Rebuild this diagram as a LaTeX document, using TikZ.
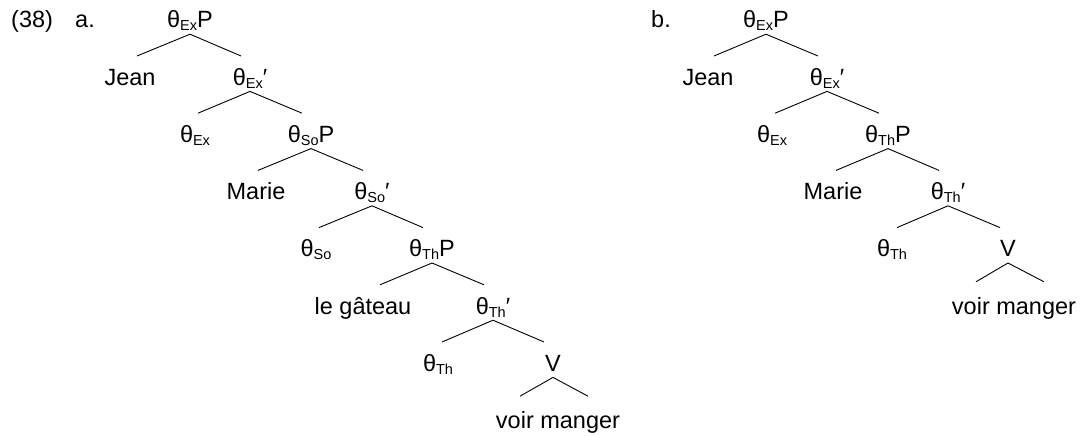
\documentclass[tikz,border=0pt]{standalone}
\usepackage{fontspec}
\setmainfont{Liberation Sans}
\newcommand{\sbs}[1]{\raisebox{-3pt}{\fontsize{14.5}{14.5}\selectfont #1}}
\begin{document}
\begin{tikzpicture}[x=1pt,y=-1pt,
  tn/.style={font=\fontsize{23.5}{27}\selectfont, inner sep=0pt, text height=29pt, text depth=6pt, anchor=base},
  br/.style={line width=0.9pt}]
\useasboundingbox (0,0) rectangle (1084,436);
% labels
\node[tn,anchor=base west] (num) at (11,28) {(38)};
\node[tn,anchor=base west] (la) at (75,28) {a.};
\node[tn,anchor=base west] (lb) at (651,28) {b.};
% tree a
\node[tn] (a0) at (190,28) {θ\sbs{Ex}P};
\node[tn] (a1) at (130,85.2) {Jean};
\node[tn] (a2) at (250,85.2) {θ\sbs{Ex}′};
\node[tn] (a3) at (195,142.4) {θ\sbs{Ex}};
\node[tn] (a4) at (311,142.4) {θ\sbs{So}P};
\node[tn] (a5) at (256,199.6) {Marie};
\node[tn] (a6) at (372,199.6) {θ\sbs{So}′};
\node[tn] (a7) at (316,256.8) {θ\sbs{So}};
\node[tn] (a8) at (432,256.8) {θ\sbs{Th}P};
\node[tn] (a9) at (363,314) {le gâteau};
\node[tn] (a10) at (493,314) {θ\sbs{Th}′};
\node[tn] (a11) at (438,371.2) {θ\sbs{Th}};
\node[tn] (a12) at (553,371.2) {V};
\node[tn] (a13) at (558,428.4) {voir manger};
\draw[br] (a0.south) -- ([xshift=7pt]a1.north);
\draw[br] (a0.south) -- ([xshift=-9pt]a2.north);
\draw[br] (a2.south) -- ([xshift=3pt]a3.north);
\draw[br] (a2.south) -- ([xshift=-9pt]a4.north);
\draw[br] (a4.south) -- ([xshift=2pt]a5.north);
\draw[br] (a4.south) -- ([xshift=-9pt]a6.north);
\draw[br] (a6.south) -- ([xshift=3pt]a7.north);
\draw[br] (a6.south) -- ([xshift=-9pt]a8.north);
\draw[br] (a8.south) -- ([xshift=17pt]a9.north);
\draw[br] (a8.south) -- ([xshift=-9pt]a10.north);
\draw[br] (a10.south) -- ([xshift=4pt]a11.north);
\draw[br] (a10.south) -- ([xshift=-9pt]a12.north);
\draw[br] (a12.south) -- ([xshift=-38pt,yshift=3pt]a13.north);
\draw[br] (a12.south) -- ([xshift=30pt,yshift=3pt]a13.north);
% tree b
\node[tn] (b0) at (766,28) {θ\sbs{Ex}P};
\node[tn] (b1) at (708,85.2) {Jean};
\node[tn] (b2) at (827,85.2) {θ\sbs{Ex}′};
\node[tn] (b3) at (772,142.4) {θ\sbs{Ex}};
\node[tn] (b4) at (888,142.4) {θ\sbs{Th}P};
\node[tn] (b5) at (833,199.6) {Marie};
\node[tn] (b6) at (948,199.6) {θ\sbs{Th}′};
\node[tn] (b7) at (892,256.8) {θ\sbs{Th}};
\node[tn] (b8) at (1008,256.8) {V};
\node[tn] (b9) at (1014,314) {voir manger};
\draw[br] (b0.south) -- ([xshift=6pt]b1.north);
\draw[br] (b0.south) -- ([xshift=-9pt]b2.north);
\draw[br] (b2.south) -- ([xshift=3pt]b3.north);
\draw[br] (b2.south) -- ([xshift=-9pt]b4.north);
\draw[br] (b4.south) -- ([xshift=3pt]b5.north);
\draw[br] (b4.south) -- ([xshift=-9pt]b6.north);
\draw[br] (b6.south) -- ([xshift=5pt]b7.north);
\draw[br] (b6.south) -- ([xshift=-8pt]b8.north);
\draw[br] (b8.south) -- ([xshift=-38pt,yshift=3pt]b9.north);
\draw[br] (b8.south) -- ([xshift=30pt,yshift=3pt]b9.north);
\end{tikzpicture}
\end{document}
